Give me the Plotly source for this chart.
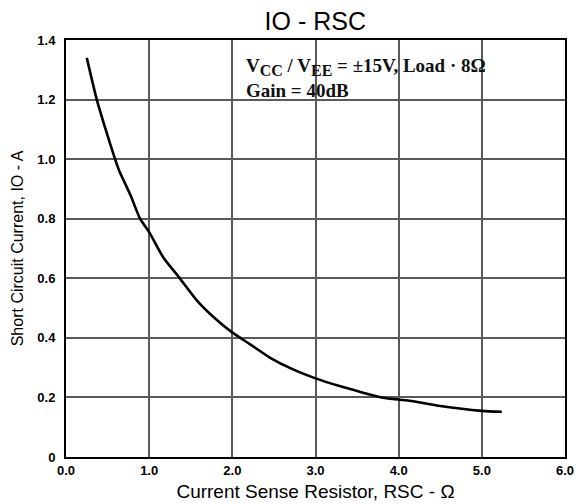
import plotly.graph_objects as go

# Data
rsc_ohm = [0.25, 0.37, 0.48, 0.59, 0.64, 0.78, 0.89, 1.0, 1.17, 1.36, 1.57, 1.77,
           1.99, 2.21, 2.45, 2.73, 3.0, 3.29, 3.57, 3.81, 4.13, 4.5, 5.0, 5.24]
io_amp = [1.34, 1.2, 1.097, 1.0, 0.961, 0.876, 0.8, 0.755, 0.67, 0.603, 0.527, 0.471,
          0.42, 0.379, 0.334, 0.294, 0.264, 0.238, 0.216, 0.199, 0.189, 0.171, 0.155, 0.152]

x_tickvals = [0, 1, 2, 3, 4, 5, 6]
x_ticktext = ["0.0", "1.0", "2.0", "3.0", "4.0", "5.0", "6.0"]
y_tickvals = [0, 0.2, 0.4, 0.6, 0.8, 1.0, 1.2, 1.4]
y_ticktext = ["0", "0.2", "0.4", "0.6", "0.8", "1.0", "1.2", "1.4"]

SANS = "Liberation Sans, Arial, sans-serif"
SERIF = "Liberation Serif, Times New Roman, serif"

fig = go.Figure()
fig.add_trace(go.Scatter(
    x=rsc_ohm, y=io_amp, mode="lines",
    line=dict(color="black", width=2.6, shape="spline", smoothing=0.6),
    showlegend=False, hoverinfo="skip",
))

sub_cc = "<sub><span style='font-size:16px'>CC</span></sub>"
sub_ee = "<sub><span style='font-size:16px'>EE</span></sub>"
note = ("<b>V" + sub_cc + " / V" + sub_ee + " = ±15V, Load · 8Ω<br>"
        "Gain = 40dB</b>")

fig.update_layout(
    width=578, height=504,
    margin=dict(l=66, r=13, t=40, b=47),
    paper_bgcolor="white", plot_bgcolor="white",
    font=dict(family=SANS, color="black"),
    title=dict(text="IO - RSC", x=0.5455, xanchor="center",
               yref="container", y=0.958, yanchor="middle",
               font=dict(size=25, family=SANS, color="black")),
    annotations=[dict(
        text=note,
        xref="paper", yref="paper", x=0.357, y=0.968, xanchor="left", yanchor="top",
        align="left", showarrow=False,
        font=dict(family=SERIF, size=19, color="#111111"),
    )],
)

fig.update_xaxes(
    range=[0, 6], tickvals=x_tickvals, ticktext=x_ticktext,
    showgrid=True, gridcolor="#5a5a5a", gridwidth=1.5,
    showline=True, linecolor="black", linewidth=2, mirror=True,
    ticks="", zeroline=False,
    tickfont=dict(size=13, family=SANS, weight="bold"),
    title=dict(text="Current Sense Resistor, RSC - Ω", standoff=8,
               font=dict(size=19, family=SANS)),
    automargin=False,
)
fig.update_yaxes(
    range=[0, 1.4], tickvals=y_tickvals, ticktext=y_ticktext,
    showgrid=True, gridcolor="#5a5a5a", gridwidth=1.5,
    showline=True, linecolor="black", linewidth=2, mirror=True,
    ticks="", zeroline=False, ticklabelstandoff=6,
    tickfont=dict(size=13, family=SANS, weight="bold"),
    title=dict(text="Short Circuit Current, IO - A", standoff=10,
               font=dict(size=16, family=SANS)),
    automargin=False,
)

fig.write_html("out.html", config={"displayModeBar": False},
               post_script="document.body.style.margin='0px';")
